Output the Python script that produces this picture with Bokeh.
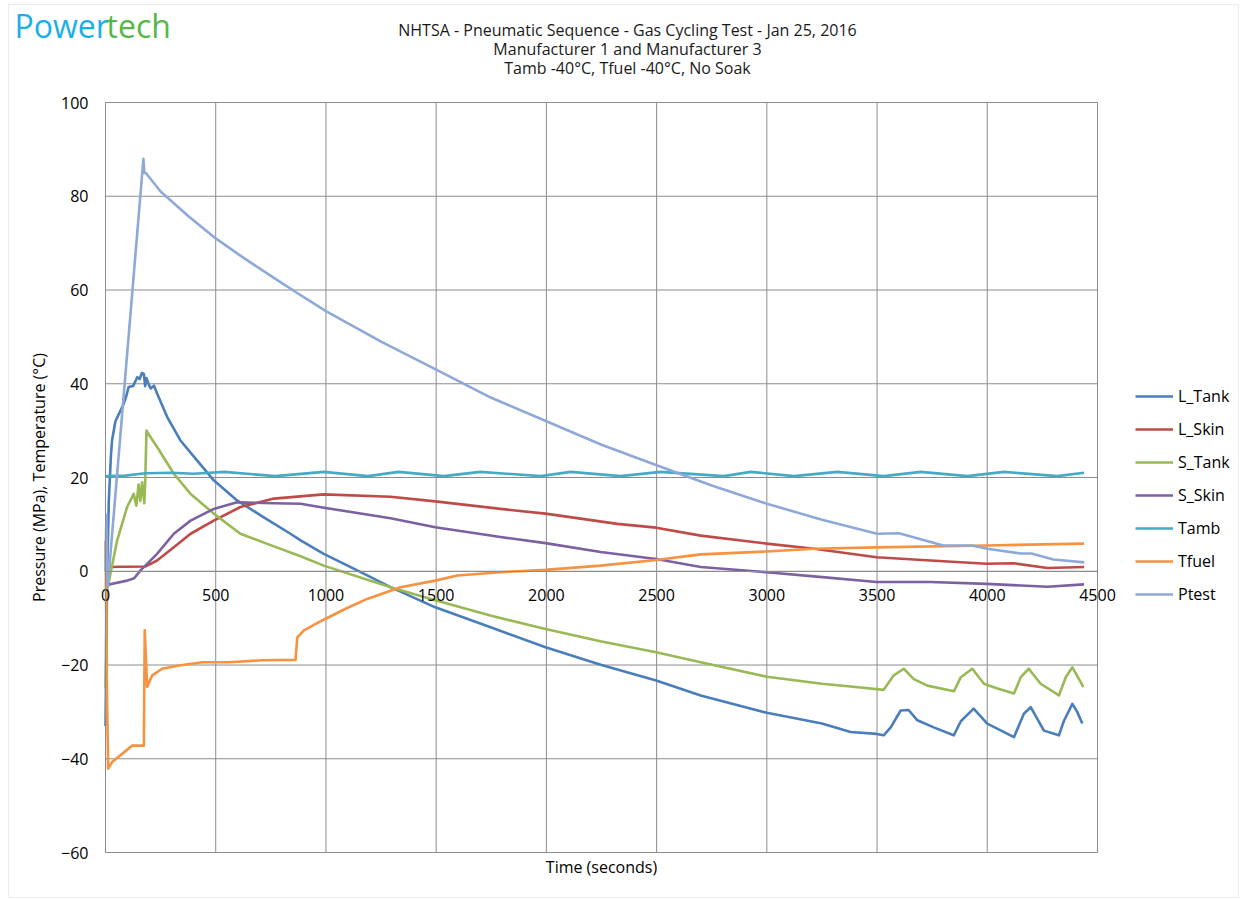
from bokeh.plotting import figure
from bokeh.models import (Legend, LegendItem, LinearAxis, Label, Range1d, FixedTicker,
                          BoxAnnotation)
from bokeh.embed import file_html
from bokeh.resources import INLINE

# ---------------- data ----------------
x_ticks = [0, 500, 1000, 1500, 2000, 2500, 3000, 3500, 4000, 4500]
y_ticks = [-60, -40, -20, 0, 20, 40, 60, 80, 100]

l_tank_t = [0, 8, 15, 25, 30, 45, 60, 83, 95, 105, 125, 144, 155, 165, 174, 180, 186, 195,
            205, 220, 234, 280, 340, 416, 491, 597, 718, 839, 885, 990, 1142, 1293, 1496,
            1750, 1996, 2250, 2498, 2700, 3000, 3250, 3380, 3498, 3530, 3562, 3607, 3643,
            3683, 3757, 3848, 3880, 3938, 4000, 4121, 4166, 4197, 4257, 4325, 4347, 4386,
            4408, 4431]
l_tank_v = [-33, 0, 15, 25, 28, 32, 33.5, 35.8, 37.5, 39.3, 39.5, 41.4, 41.0, 42.3, 42.1,
            39.5, 41.2, 40, 39.0, 39.6, 37.9, 32.9, 27.9, 23.6, 19.4, 15.1, 11.5, 8.0, 6.6,
            3.7, 0.2, -3.4, -7.7, -12, -16.2, -20, -23.3, -26.5, -30.2, -32.5, -34.3,
            -34.7, -35, -33.3, -29.7, -29.6, -31.8, -33.3, -35, -32, -29.3, -32.5, -35.4,
            -30.4, -29, -34, -35, -32, -28.3, -30, -32.5]

l_skin_t = [0, 180, 234, 310, 386, 491, 612, 764, 990, 1293, 1496, 1792, 1996, 2322, 2498,
            2700, 2999, 3214, 3498, 3743, 3997, 4121, 4273, 4439]
l_skin_v = [0.9, 1.0, 2.3, 5.1, 8.0, 10.8, 13.7, 15.5, 16.4, 15.9, 14.9, 13.3, 12.3, 10.1,
            9.3, 7.6, 5.9, 4.8, 3.0, 2.3, 1.6, 1.7, 0.7, 0.9]

s_tank_t = [0, 5, 10, 53, 98, 128, 140, 150, 158, 166, 176, 180, 186, 192, 234, 310, 386,
            491, 612, 764, 885, 990, 1293, 1496, 1750, 1996, 2250, 2498, 2700, 3000, 3250,
            3380, 3530, 3576, 3621, 3667, 3728, 3849, 3880, 3932, 3985, 4046, 4121, 4152,
            4188, 4242, 4325, 4356, 4386, 4416, 4436]
s_tank_v = [-25, -3.4, -3.4, 6.6, 13.7, 16.5, 14.0, 18.5, 15.0, 19.0, 14.5, 18.8, 30.0, 29.5,
            26.5, 20.8, 16.5, 12.3, 8.0, 5.3, 3.2, 1.2, -3.4, -6.2, -9.5, -12.3, -15, -17.3,
            -19.4, -22.5, -24, -24.6, -25.3, -22.2, -20.8, -23, -24.4, -25.6, -22.6, -20.8,
            -24, -25, -26.1, -22.6, -20.8, -24, -26.5, -22.6, -20.5, -23, -24.7]

s_skin_t = [0, 98, 130, 159, 234, 310, 386, 491, 597, 764, 885, 998, 1293, 1496, 1792, 1996,
            2246, 2498, 2700, 2999, 3214, 3498, 3743, 3997, 4273, 4439]
s_skin_v = [-3.0, -2.0, -1.5, 0.2, 3.7, 8.0, 10.8, 13.3, 14.7, 14.5, 14.4, 13.5, 11.3, 9.4,
            7.3, 6.0, 4.1, 2.6, 0.9, -0.2, -1.1, -2.3, -2.3, -2.7, -3.3, -2.8]

tamb_t = [0, 90, 180, 300, 400, 540, 770, 990, 1190, 1330, 1535, 1700, 1974, 2110, 2337,
          2518, 2805, 2927, 3122, 3320, 3531, 3698, 3910, 4076, 4318, 4439]
tamb_v = [20.3, 20.4, 20.9, 21.0, 20.8, 21.2, 20.3, 21.2, 20.3, 21.2, 20.3, 21.2, 20.3, 21.2,
          20.3, 21.2, 20.3, 21.2, 20.3, 21.2, 20.3, 21.2, 20.3, 21.2, 20.3, 21.0]

tfuel_t = [0, 5, 12, 30, 121, 174, 178, 189, 212, 257, 333, 439, 559, 711, 862, 870, 900,
           983, 1089, 1187, 1338, 1496, 1596, 1792, 1996, 2246, 2498, 2700, 2999, 3214,
           3498, 3997, 4439]
tfuel_v = [6.5, -20, -42.1, -40.7, -37.2, -37.2, -12.6, -24.7, -22.2, -20.8, -20.1, -19.4,
           -19.4, -19.0, -18.9, -14.1, -12.6, -10.5, -8.0, -5.9, -3.4, -2.0, -0.9, -0.2, 0.3,
           1.2, 2.4, 3.6, 4.2, 4.8, 5.1, 5.5, 5.9]

ptest_t = [0, 4, 10, 16, 172, 176, 182, 250, 375, 500, 625, 750, 875, 1000, 1250, 1500, 1750,
           2000, 2250, 2500, 2750, 3000, 3250, 3500, 3600, 3800, 3930, 4000, 4150, 4200,
           4300, 4440]
ptest_v = [0, 12, -3, 0, 88, 85, 85, 81, 75.8, 71, 66.9, 63, 59.2, 55.5, 49, 43, 37, 32, 27,
           22.6, 18.3, 14.4, 11, 8.0, 8.1, 5.5, 5.5, 4.8, 3.8, 3.8, 2.5, 1.9]

series_names = ["L_Tank", "L_Skin", "S_Tank", "S_Skin", "Tamb", "Tfuel", "Ptest"]
series_colors = ["#4A7EBB", "#BE4B48", "#98B954", "#7D60A0", "#46AAC5", "#F69240", "#8EA9D8"]

title_lines = ["NHTSA - Pneumatic Sequence - Gas Cycling Test - Jan 25, 2016",
               "Manufacturer 1 and Manufacturer 3",
               "Tamb -40\u00b0C, Tfuel -40\u00b0C, No Soak"]
logo_parts = ["Power", "tech"]
logo_colors = ["#1AAFEA", "#55B747"]

# ---------------- layout constants (pixels) ----------------
W, H = 1240, 898
PX0, PX1 = 105, 1097          # plot area left/right on the canvas
PY0, PY1 = 102, 852           # plot area top/bottom on the canvas
FONT = "Open Sans"
FS = "16px"
GRID = "#8C8C8C"

xs = (PX1 - PX0) / (x_ticks[-1] - x_ticks[0])
ys = (PY1 - PY0) / (y_ticks[-1] - y_ticks[0])
x_range = Range1d(x_ticks[0] - PX0 / xs, x_ticks[-1] + (W - PX1) / xs)
y_range = Range1d(y_ticks[0] - (H - PY1) / ys, y_ticks[-1] + PY0 / ys)

p = figure(width=W, height=H, x_range=x_range, y_range=y_range,
           output_backend="svg", toolbar_location=None,
           x_axis_location=None, y_axis_location=None,
           min_border=0, min_border_left=0, min_border_right=0,
           min_border_top=0, min_border_bottom=0)
p.background_fill_color = "white"
p.border_fill_color = "white"
p.outline_line_color = None
p.xgrid.visible = False
p.ygrid.visible = False

# grid lines of the plot area, from the tick lists
p.segment(x0=[x_ticks[0]] * len(y_ticks), x1=[x_ticks[-1]] * len(y_ticks),
          y0=y_ticks, y1=y_ticks, line_color=GRID, line_width=1)
p.segment(x0=x_ticks, x1=x_ticks, y0=[y_ticks[0]] * len(x_ticks),
          y1=[y_ticks[-1]] * len(x_ticks), line_color=GRID, line_width=1)

def style_axis(ax):
    ax.major_tick_out = 0
    ax.major_tick_in = 0
    ax.minor_tick_out = 0
    ax.minor_tick_in = 0
    ax.axis_line_color = GRID
    ax.major_label_text_font = FONT
    ax.major_label_text_font_size = FS
    ax.major_label_text_color = "#000000"
    ax.axis_label_text_font = FONT
    ax.axis_label_text_font_size = FS
    ax.axis_label_text_font_style = "normal"
    ax.axis_label_text_color = "#000000"

yaxis = LinearAxis(ticker=FixedTicker(ticks=y_ticks), fixed_location=0,
                   bounds=(y_ticks[0], y_ticks[-1]),
                   axis_label="Pressure (MPa), Temperature (\u00b0C)")
style_axis(yaxis)
yaxis.major_label_standoff = 17
yaxis.axis_label_standoff = 8
p.add_layout(yaxis, "left")

xaxis = LinearAxis(ticker=FixedTicker(ticks=x_ticks), fixed_location=0,
                   bounds=(x_ticks[0], x_ticks[-1]))
style_axis(xaxis)
xaxis.major_label_standoff = 18
p.add_layout(xaxis, "below")

xlab = LinearAxis(ticker=FixedTicker(ticks=[]), fixed_location=y_ticks[0],
                  bounds=(x_ticks[0], x_ticks[-1]), axis_label="Time (seconds)")
style_axis(xlab)
xlab.axis_line_color = None
xlab.major_label_text_font_size = "0px"
xlab.axis_label_standoff = 3
p.add_layout(xlab, "below")

data_t = [l_tank_t, l_skin_t, s_tank_t, s_skin_t, tamb_t, tfuel_t, ptest_t]
data_v = [l_tank_v, l_skin_v, s_tank_v, s_skin_v, tamb_v, tfuel_v, ptest_v]
items = []
for name, col, tt, vv in zip(series_names, series_colors, data_t, data_v):
    r = p.line(tt, vv, line_color=col, line_width=2.6, line_join="round")
    items.append(LegendItem(label=name, renderers=[r]))

legend = Legend(items=items, location=(1135, H - 605), glyph_width=38, glyph_height=20,
                label_height=20, spacing=11, padding=0, margin=0,
                border_line_color=None, background_fill_alpha=0,
                label_text_font=FONT, label_text_font_size=FS,
                label_text_color="#000000", label_standoff=5)
p.add_layout(legend, "center")

# chart-area border
p.add_layout(BoxAnnotation(left=8, right=1238, bottom=1, top=H - 4,
                           left_units="screen", right_units="screen",
                           bottom_units="screen", top_units="screen",
                           fill_alpha=0, line_color="#BFBFBF", line_width=1))

# logo
p.add_layout(Label(x=14, y=H - 25, x_units="screen", y_units="screen", text=logo_parts[0],
                   text_font=FONT, text_font_size="32px", text_color=logo_colors[0],
                   text_baseline="middle"))
p.add_layout(Label(x=14 + 92, y=H - 25, x_units="screen", y_units="screen",
                   text=logo_parts[1], text_font=FONT, text_font_size="32px",
                   text_color=logo_colors[1], text_baseline="middle"))

# title lines
for i, line in enumerate(title_lines):
    p.add_layout(Label(x=627, y=H - 29.5 - 19 * i, x_units="screen", y_units="screen",
                       text=line, text_font=FONT, text_font_size=FS,
                       text_color="#1A1A1A", text_align="center",
                       text_baseline="middle"))

open("out.html", "w").write(file_html(p, INLINE))
